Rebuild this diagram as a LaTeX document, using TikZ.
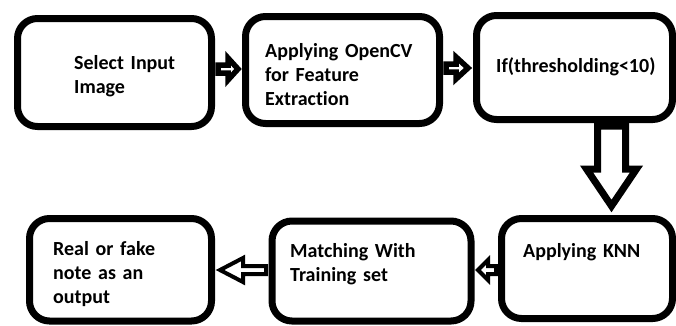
\documentclass[tikz,border=0pt]{standalone}
\usepackage{fontspec}
\setmainfont{Carlito}[Ligatures=NoCommon]
\begin{document}
\begin{tikzpicture}[x=1pt,y=-1pt,
  box/.style={draw=black,line width=7pt,rounded corners=20pt,inner sep=0pt},
  lbl/.style={anchor=base west,inner sep=0pt,align=left,text width=180pt,font=\bfseries\fontsize{20}{24}\selectfont},
  blk/.style={draw=black,fill=white,line width=4pt,line join=miter},
  smallblk/.style={draw=black,fill=white,line width=5.5pt,line join=miter},
  bigblk/.style={draw=black,fill=white,line width=7pt,line join=miter}]
\fill[white] (0,0) rectangle (676,325);
\useasboundingbox (0,0) rectangle (676,325);
% boxes
\node[box,minimum width=194pt,minimum height=108pt] (b1) at (114.5,72.5) {};
\node[box,minimum width=194pt,minimum height=107pt] (b2) at (342.5,70) {};
\node[box,minimum width=196pt,minimum height=104pt] (b3) at (574.5,67.5) {};
\node[box,minimum width=171pt,minimum height=100pt] (b4) at (587,268.5) {};
\node[box,minimum width=199pt,minimum height=100pt] (b5) at (371.5,271) {};
\node[box,minimum width=182pt,minimum height=102.5pt] (b6) at (120.5,269.75) {};
% labels
\node[lbl] (t1) at (74,69) {Select Input\\Image};
\node[lbl] (t2) at (265,57) {Applying OpenCV\\for Feature\\Extraction};
\node[lbl] (t3) at (496,72) {If(thresholding<10)};
\node[lbl] (t4) at (523,257) {Applying KNN};
\node[lbl] (t5) at (290,257) {Matching With\\Training set};
\node[lbl] (t6) at (53,255) {Real or fake\\note as an\\output};
% block arrows
\draw[smallblk] (218,65) -- (228,65) -- (228,58) -- (238,69) -- (228,80) -- (228,73) -- (218,73) -- cycle;
\draw[smallblk] (446,64) -- (456,64) -- (456,57) -- (468,68) -- (456,79) -- (456,72) -- (446,72) -- cycle;
\draw[blk] (266,266) -- (243,266) -- (243,258) -- (220,270) -- (243,282) -- (243,274) -- (266,274) -- cycle;
\draw[blk] (496,266) -- (488,266) -- (488,260) -- (478,270) -- (488,280) -- (488,274) -- (496,274) -- cycle;
\draw[bigblk] (597.5,126) -- (597.5,169) -- (586.5,169) -- (611.5,206) -- (636.5,169) -- (625.5,169) -- (625.5,126) -- cycle;
\end{tikzpicture}
\end{document}
